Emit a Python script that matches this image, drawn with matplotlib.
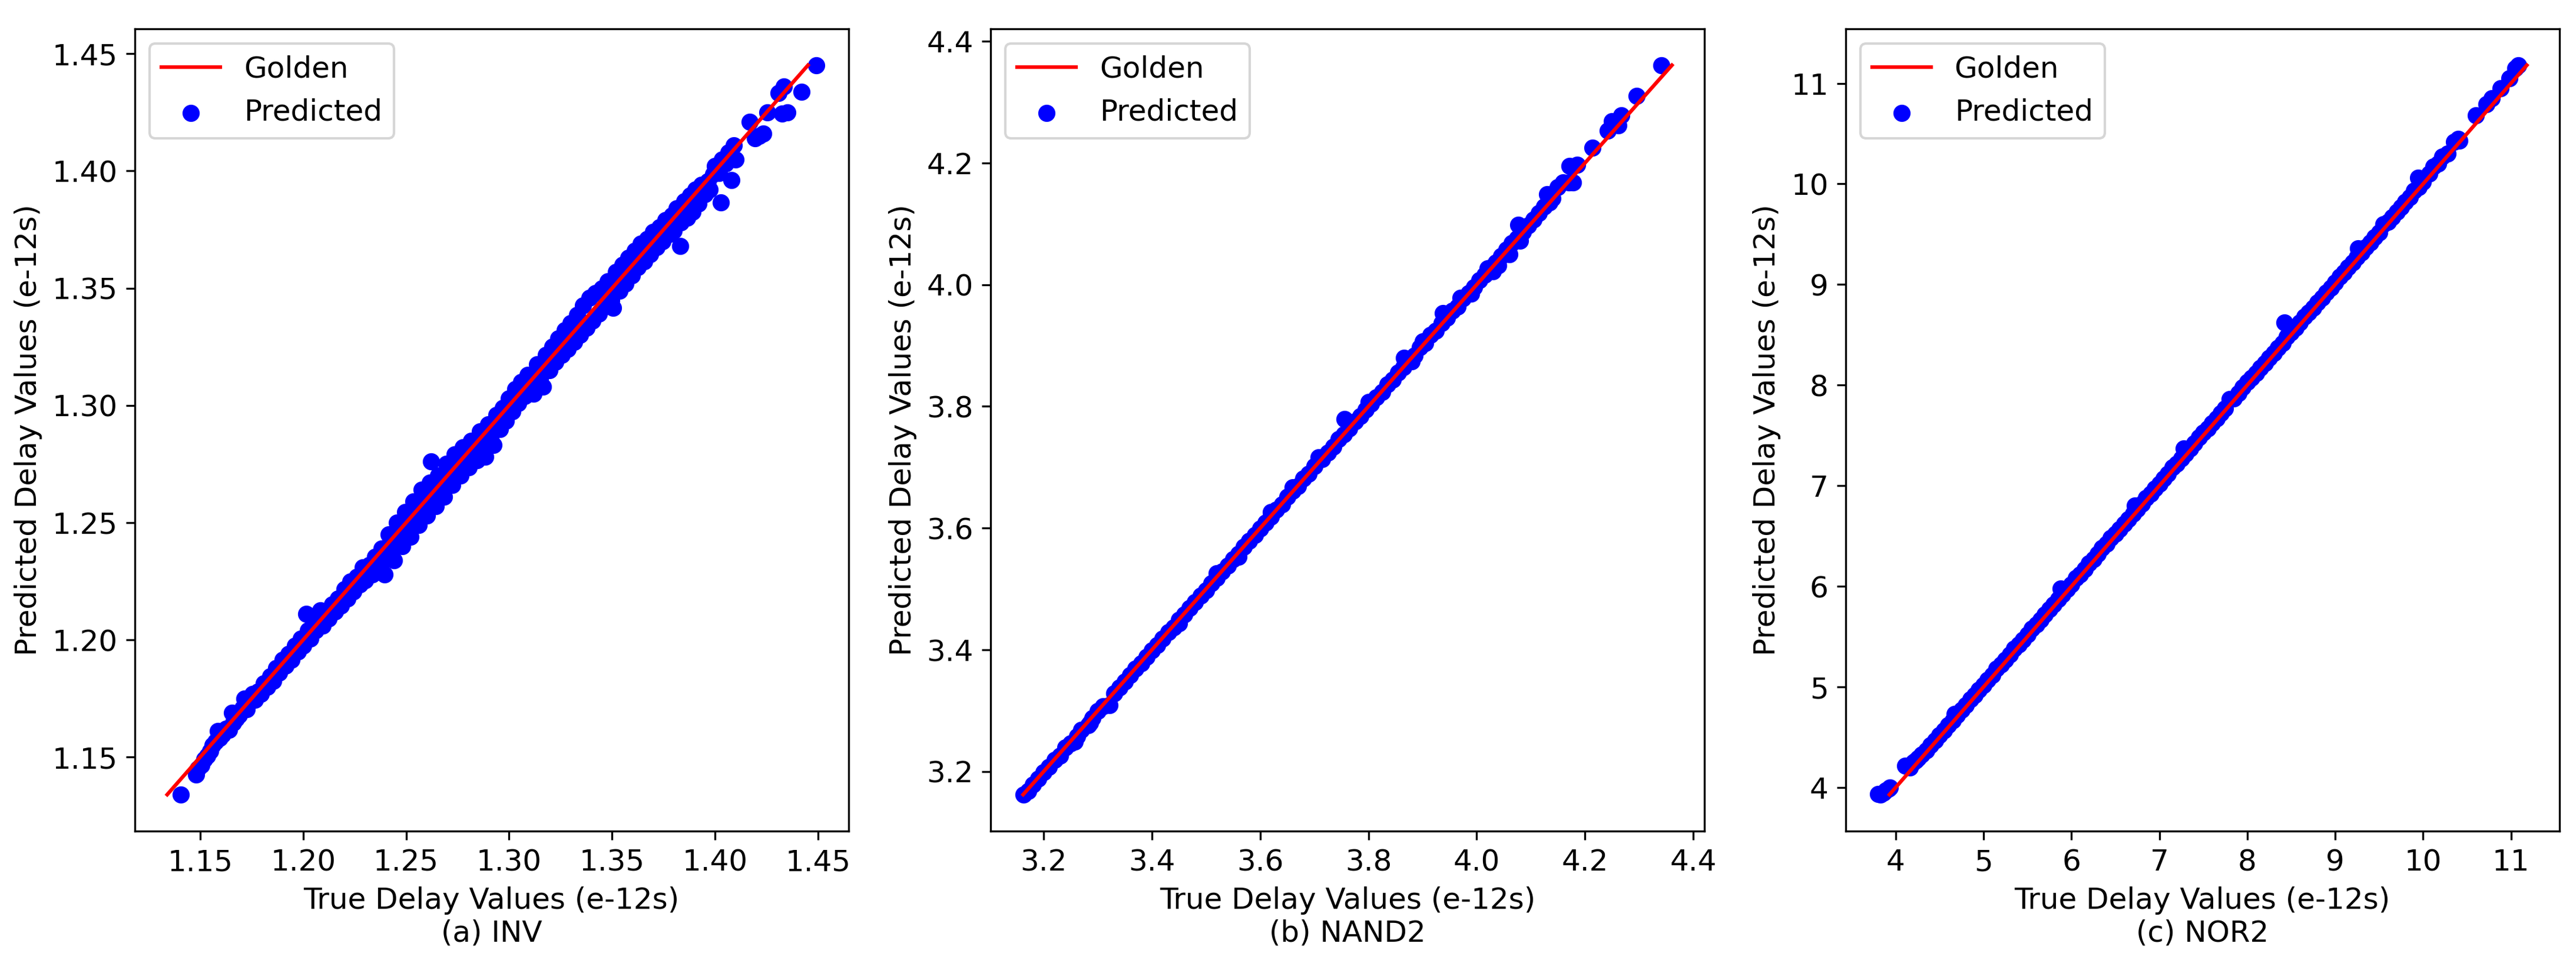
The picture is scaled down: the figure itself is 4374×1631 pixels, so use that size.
import matplotlib
import matplotlib.pyplot as plt
from matplotlib.ticker import MultipleLocator

matplotlib.rcParams.update({
    'figure.facecolor': 'w',
    'font.size': 12,
})

# (a) INV
inv_true = [
    1.1405, 1.1480, 1.1490, 1.1505, 1.1520, 1.1535, 1.1550, 1.1560, 1.1575, 1.1585,
    1.1595, 1.1610, 1.1625, 1.1640, 1.1655, 1.1660, 1.1675, 1.1690,
    1.1705, 1.1715, 1.1725, 1.1740, 1.1755, 1.1765, 1.1780, 1.1795, 1.1810, 1.1825,
    1.1840, 1.1855, 1.1870, 1.1885, 1.1900, 1.1915, 1.1930, 1.1945, 1.1960, 1.1975,
    1.1990,
    1.2000, 1.2015, 1.2025, 1.2035, 1.2050, 1.2060, 1.2075, 1.2085, 1.2095, 1.2110,
    1.2125, 1.2140, 1.2155, 1.2170, 1.2185, 1.2200, 1.2215, 1.2230, 1.2245, 1.2260,
    1.2275, 1.2290, 1.2300, 1.2320, 1.2335, 1.2350, 1.2365, 1.2380, 1.2395, 1.2400,
    1.2415, 1.2425, 1.2440, 1.2455, 1.2465, 1.2480, 1.2495, 1.2505, 1.2520, 1.2535,
    1.2545, 1.2560, 1.2575, 1.2585, 1.2600, 1.2615, 1.2621, 1.2630, 1.2645, 1.2655,
    1.2670, 1.2685, 1.2695, 1.2710, 1.2725, 1.2735, 1.2750, 1.2765, 1.2775, 1.2790,
    1.2805, 1.2815, 1.2830, 1.2845, 1.2860, 1.2870, 1.2885, 1.2900, 1.2910, 1.2925,
    1.2940, 1.2955, 1.2970,
    1.2985, 1.3000, 1.3015, 1.3030, 1.3045, 1.3060, 1.3075, 1.3090, 1.3105, 1.3120,
    1.3135, 1.3150, 1.3165, 1.3180, 1.3195, 1.3210, 1.3225, 1.3240, 1.3255, 1.3270,
    1.3285, 1.3300, 1.3315, 1.3330, 1.3345, 1.3360, 1.3375, 1.3390, 1.3405, 1.3420,
    1.3435, 1.3450, 1.3465, 1.3480, 1.3495, 1.3505, 1.3520, 1.3535, 1.3550, 1.3565,
    1.3580, 1.3595, 1.3610, 1.3625, 1.3640, 1.3655, 1.3670, 1.3685, 1.3700, 1.3715,
    1.3730, 1.3745, 1.3760, 1.3775, 1.3790,
    1.3800, 1.3815, 1.3830, 1.3835, 1.3850, 1.3865, 1.3880, 1.3890, 1.3905, 1.3920,
    1.3935, 1.3950, 1.3965, 1.3975, 1.3990, 1.4000, 1.4020, 1.4027, 1.4035, 1.4050,
    1.4065, 1.4080, 1.4090, 1.4100, 1.4167, 1.4195, 1.4215, 1.4235, 1.4255, 1.4308,
    1.4335, 1.4325, 1.4350, 1.4421, 1.4490,
]
inv_pred = [
    1.1340, 1.1425, 1.1450, 1.1465, 1.1490, 1.1505, 1.1525, 1.1550, 1.1565, 1.1610,
    1.1580, 1.1595, 1.1620, 1.1615, 1.1690, 1.1645, 1.1665, 1.1680,
    1.1710, 1.1750, 1.1705, 1.1735, 1.1770, 1.1745, 1.1780, 1.1770, 1.1815, 1.1800,
    1.1845, 1.1825, 1.1880, 1.1860, 1.1915, 1.1890, 1.1940, 1.1915, 1.1975, 1.1950,
    1.2005,
    1.1975, 1.2110, 1.2040, 1.2005, 1.2085, 1.2040, 1.2070, 1.2125, 1.2060, 1.2110,
    1.2090, 1.2150, 1.2120, 1.2175, 1.2145, 1.2215, 1.2175, 1.2250, 1.2205, 1.2270,
    1.2235, 1.2310, 1.2255, 1.2320, 1.2280, 1.2355, 1.2300, 1.2390, 1.2280, 1.2345,
    1.2450, 1.2390, 1.2340, 1.2500, 1.2440, 1.2400, 1.2545, 1.2480, 1.2440, 1.2590,
    1.2525, 1.2490, 1.2640, 1.2570, 1.2530, 1.2670, 1.2762, 1.2610, 1.2570, 1.2700,
    1.2650, 1.2610, 1.2750, 1.2690, 1.2660, 1.2790, 1.2730, 1.2700, 1.2820, 1.2760,
    1.2735, 1.2850, 1.2800, 1.2765, 1.2890, 1.2835, 1.2780, 1.2920, 1.2860, 1.2830,
    1.2960, 1.2900, 1.2990,
    1.2935, 1.3030, 1.2975, 1.3070, 1.3010, 1.3100, 1.3040, 1.3130, 1.3070, 1.3050,
    1.3175, 1.3110, 1.3080, 1.3215, 1.3150, 1.3250, 1.3185, 1.3285, 1.3215, 1.3320,
    1.3240, 1.3350, 1.3270, 1.3385, 1.3300, 1.3425, 1.3330, 1.3460, 1.3360, 1.3480,
    1.3390, 1.3500, 1.3420, 1.3530, 1.3450, 1.3415, 1.3570, 1.3490, 1.3600, 1.3520,
    1.3630, 1.3555, 1.3660, 1.3590, 1.3690, 1.3615, 1.3710, 1.3645, 1.3740, 1.3675,
    1.3760, 1.3700, 1.3790, 1.3730, 1.3810,
    1.3745, 1.3840, 1.3680, 1.3780, 1.3870, 1.3800, 1.3895, 1.3825, 1.3920, 1.3860,
    1.3940, 1.3900, 1.3955, 1.3920, 1.3985, 1.4020, 1.3990, 1.3865, 1.4050, 1.4030,
    1.4080, 1.3960, 1.4110, 1.4050, 1.4210, 1.4140, 1.4150, 1.4160, 1.4249, 1.4333,
    1.4359, 1.4245, 1.4250, 1.4338, 1.4451,
]

# (b) NAND2
nand_true = [
    3.163, 3.172, 3.180, 3.190, 3.200, 3.210, 3.220, 3.230, 3.240, 3.250,
    3.258, 3.262, 3.270, 3.282, 3.286, 3.290, 3.300, 3.310, 3.322, 3.330,
    3.340, 3.350, 3.360, 3.370, 3.380, 3.390, 3.400, 3.410, 3.420, 3.430,
    3.440, 3.450, 3.450, 3.460, 3.470, 3.480, 3.490, 3.500, 3.510, 3.520,
    3.520, 3.530, 3.540, 3.550, 3.560, 3.560, 3.570, 3.580, 3.590, 3.600,
    3.610, 3.620, 3.620, 3.630, 3.640, 3.650, 3.660, 3.660, 3.670, 3.680,
    3.690, 3.700, 3.708, 3.715, 3.725, 3.735, 3.745, 3.756, 3.755, 3.765,
    3.775, 3.785, 3.795, 3.800, 3.805, 3.815, 3.825, 3.835, 3.845, 3.855,
    3.866, 3.865, 3.875, 3.880, 3.885, 3.895, 3.900, 3.905, 3.915, 3.925,
    3.937, 3.935, 3.945, 3.955, 3.965, 3.970, 3.975, 3.985, 3.990, 3.995,
    4.005, 4.015, 4.020, 4.025, 4.030, 4.035, 4.040, 4.045, 4.055, 4.060,
    4.065, 4.077, 4.075, 4.080, 4.085, 4.095, 4.105, 4.115, 4.125, 4.130,
    4.135, 4.140, 4.150, 4.160, 4.170, 4.171, 4.178, 4.186, 4.214, 4.242,
    4.250, 4.262, 4.267, 4.295, 4.3415,
]
nand_pred = [
    3.162, 3.168, 3.178, 3.188, 3.199, 3.207, 3.219, 3.226, 3.239, 3.246,
    3.249, 3.258, 3.268, 3.276, 3.280, 3.288, 3.299, 3.307, 3.309, 3.328,
    3.338, 3.348, 3.358, 3.369, 3.378, 3.388, 3.399, 3.408, 3.418, 3.429,
    3.437, 3.449, 3.443, 3.458, 3.469, 3.478, 3.489, 3.498, 3.509, 3.518,
    3.526, 3.529, 3.538, 3.549, 3.558, 3.553, 3.569, 3.579, 3.589, 3.599,
    3.609, 3.619, 3.626, 3.630, 3.639, 3.651, 3.661, 3.667, 3.669, 3.681,
    3.689, 3.702, 3.716, 3.713, 3.724, 3.734, 3.746, 3.779, 3.754, 3.764,
    3.775, 3.784, 3.795, 3.807, 3.804, 3.815, 3.824, 3.836, 3.844, 3.856,
    3.880, 3.864, 3.876, 3.874, 3.884, 3.897, 3.907, 3.904, 3.917, 3.924,
    3.953, 3.937, 3.946, 3.957, 3.964, 3.978, 3.977, 3.986, 3.985, 3.996,
    4.007, 4.016, 4.027, 4.028, 4.022, 4.036, 4.032, 4.047, 4.058, 4.050,
    4.068, 4.0985, 4.076, 4.072, 4.087, 4.097, 4.107, 4.118, 4.128, 4.149,
    4.135, 4.142, 4.160, 4.168, 4.168, 4.195, 4.168, 4.197, 4.225, 4.253,
    4.269, 4.262, 4.278, 4.310, 4.3607,
]

# (c) NOR2
nor_true = [
    3.80, 3.83, 3.862, 3.89, 3.92, 3.937,
    4.112, 4.16, 4.20, 4.23, 4.26, 4.30, 4.35, 4.40, 4.45, 4.50,
    4.55, 4.60, 4.671, 4.65, 4.70, 4.75, 4.80, 4.85, 4.90, 4.95,
    5.00, 5.05, 5.10, 5.15, 5.20, 5.25, 5.30, 5.35, 5.40, 5.45,
    5.50, 5.55, 5.60, 5.65, 5.70, 5.75, 5.80, 5.85, 5.881, 5.90,
    5.95, 6.00, 6.05, 6.10, 6.15, 6.20, 6.25, 6.30, 6.35, 6.40,
    6.45, 6.50, 6.55, 6.60, 6.65, 6.72, 6.70, 6.75, 6.80, 6.85,
    6.90, 6.95, 7.00, 7.05, 7.10, 7.15, 7.20, 7.25, 7.28, 7.30,
    7.35, 7.40, 7.45, 7.50, 7.55, 7.60, 7.65, 7.70, 7.75, 7.80,
    7.85, 7.90, 7.95, 8.00, 8.05, 8.10, 8.15, 8.20, 8.25, 8.30,
    8.35, 8.426, 8.40, 8.45, 8.50, 8.55, 8.60, 8.65, 8.70, 8.75,
    8.80, 8.85, 8.90, 8.95, 9.00, 9.05, 9.10, 9.15, 9.20, 9.26,
    9.25, 9.30, 9.35, 9.40, 9.45, 9.50, 9.55, 9.60, 9.65, 9.70,
    9.75, 9.80, 9.85, 9.90, 9.947, 9.95, 10.00, 10.07, 10.12, 10.17,
    10.22, 10.28, 10.35, 10.40, 10.41, 10.60, 10.72, 10.78, 10.88, 10.98,
    11.05, 11.08,
]
nor_pred = [
    3.934, 3.93, 3.946, 3.97, 3.99, 4.00,
    4.219, 4.20, 4.25, 4.27, 4.29, 4.33, 4.37, 4.42, 4.47, 4.52,
    4.57, 4.62, 4.734, 4.67, 4.72, 4.77, 4.82, 4.88, 4.92, 4.97,
    5.02, 5.07, 5.12, 5.18, 5.22, 5.27, 5.32, 5.38, 5.42, 5.47,
    5.52, 5.58, 5.62, 5.67, 5.72, 5.77, 5.82, 5.87, 5.979, 5.92,
    5.97, 6.02, 6.08, 6.12, 6.17, 6.23, 6.27, 6.32, 6.38, 6.42,
    6.48, 6.52, 6.57, 6.62, 6.67, 6.80, 6.72, 6.77, 6.82, 6.88,
    6.92, 6.97, 7.02, 7.07, 7.12, 7.18, 7.22, 7.27, 7.37, 7.32,
    7.37, 7.42, 7.48, 7.53, 7.57, 7.62, 7.67, 7.72, 7.77, 7.86,
    7.87, 7.92, 7.98, 8.03, 8.07, 8.12, 8.17, 8.22, 8.27, 8.32,
    8.37, 8.620, 8.42, 8.48, 8.52, 8.57, 8.62, 8.68, 8.72, 8.77,
    8.82, 8.87, 8.92, 8.97, 9.02, 9.08, 9.12, 9.17, 9.22, 9.36,
    9.27, 9.32, 9.37, 9.42, 9.47, 9.52, 9.60, 9.62, 9.67, 9.72,
    9.77, 9.82, 9.87, 9.93, 10.059, 9.97, 10.02, 10.10, 10.17, 10.20,
    10.27, 10.30, 10.42, 10.45, 10.43, 10.684, 10.79, 10.85, 10.95, 11.05,
    11.15, 11.18,
]

# name, x tick step (None = auto)
panels = [
    (inv_true, inv_pred, "(a) INV", None),
    (nand_true, nand_pred, "(b) NAND2", None),
    (nor_true, nor_pred, "(c) NOR2", 1),
]

fig = plt.figure(figsize=(14.583, 5.437), dpi=300)
lefts = [0.0523, 0.3845, 0.7163]

for left, (true_vals, pred_vals, name, xstep) in zip(lefts, panels):
    ax = fig.add_axes([left, 0.1343, 0.2770, 0.8357])
    lo, hi = min(pred_vals), max(pred_vals)
    ax.plot([lo, hi], [lo, hi], color='red', label='Golden')
    ax.scatter(true_vals, pred_vals, color='blue', label='Predicted')
    if xstep:
        ax.xaxis.set_major_locator(MultipleLocator(xstep))
    ax.set_xlabel("True Delay Values (e-12s)\n" + name)
    ax.set_ylabel("Predicted Delay Values (e-12s)")
    ax.legend(loc='upper left')

fig.savefig("out.png", dpi=300)
